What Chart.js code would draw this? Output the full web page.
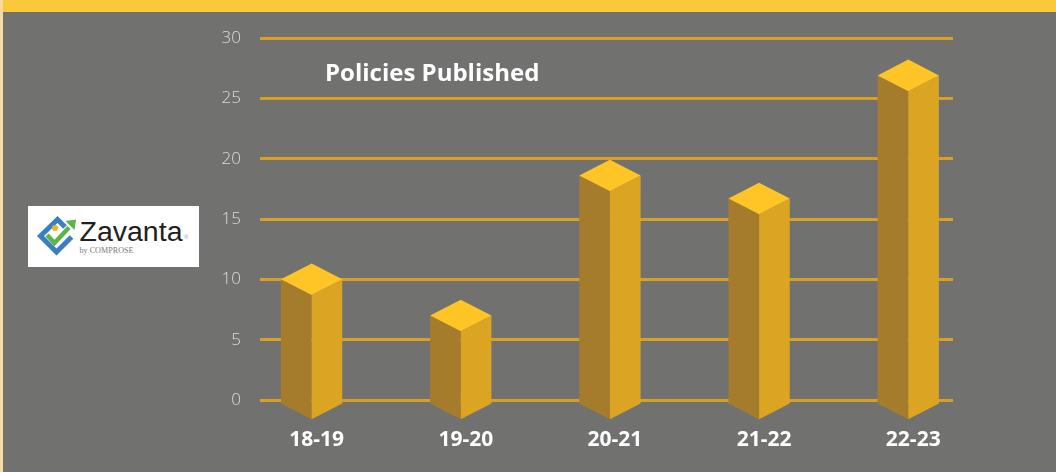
<!DOCTYPE html>
<html>
<head>
<meta charset="utf-8">
<script src="https://cdn.jsdelivr.net/npm/chart.js@4.4.1/dist/chart.umd.min.js"></script>
<style>
    html, body { margin: 0; padding: 0; }
    body {
        width: 1056px;
        height: 472px;
        overflow: hidden;
        position: relative;
        background: #717270;
    }
    .top-band {
        position: absolute; left: 0; top: 0;
        width: 1056px; height: 12px;
        background: #f9c83b;
    }
    .left-edge {
        position: absolute; left: 0; top: 0;
        width: 3px; height: 472px;
        background: #f6dca0;
    }
    .chart-box {
        position: absolute; left: 0; top: 12px;
        width: 1056px; height: 460px;
    }
    .logo {
        position: absolute; left: 28px; top: 206px;
        width: 171px; height: 61px;
        background: #ffffff;
    }
</style>
</head>
<body>
<div class="top-band"></div>
<div class="left-edge"></div>

<div class="logo">
    <svg width="171" height="61" viewBox="0 0 171 61">
        <path d="M37 21 L29.5 13.5 L12.5 30 L28.5 46 L43.5 31" fill="none" stroke="#3b7fc2" stroke-width="5" stroke-linejoin="miter"/>
        <circle cx="27" cy="22" r="3" fill="#f2b321"/>
        <path d="M19 29 L26.5 37 L41 21.5" fill="none" stroke="#5db548" stroke-width="4.5"/>
        <polygon points="48,13.5 37.5,15 46.5,24" fill="#5db548"/>
        <text x="51.5" y="35.3" font-family="Liberation Sans, Arial, sans-serif" font-size="27" fill="#231f20" textLength="103" lengthAdjust="spacingAndGlyphs">Zavanta</text>
        <text x="156" y="33" font-family="Liberation Sans, Arial, sans-serif" font-size="6" fill="#999">®</text>
        <text x="51.5" y="47" font-family="Liberation Serif, serif" font-size="7.5" fill="#7a7a7a" textLength="54" lengthAdjust="spacingAndGlyphs">by COMPROSE</text>
    </svg>
</div>

<div class="chart-box"><canvas id="policyChart"></canvas></div>

<script>
// Chart data
const CATEGORIES = ['18-19', '19-20', '20-21', '21-22', '22-23'];
const POLICIES = [10, 7, 18.6, 16.7, 26.9];
const Y_TICKS = [0, 5, 10, 15, 20, 25, 30];
const TITLE = 'Policies Published';

// 3D column drawing (isometric top + two side faces)
const columns3d = {
    id: 'columns3d',
    afterDatasetsDraw(chart) {
        const ctx = chart.ctx;
        const meta = chart.getDatasetMeta(0);
        meta.data.forEach(bar => {
            const w = bar.width / 2;
            const d = w * 0.515;
            const x = bar.x;
            const top = bar.y;
            const bottom = bar.base + 5;

            ctx.save();
            // left face
            ctx.fillStyle = '#a57c2b';
            ctx.beginPath();
            ctx.moveTo(x - w, top);
            ctx.lineTo(x, top + d);
            ctx.lineTo(x, bottom + d);
            ctx.lineTo(x - w, bottom);
            ctx.closePath();
            ctx.fill();

            // right face
            ctx.fillStyle = '#dba523';
            ctx.beginPath();
            ctx.moveTo(x, top + d);
            ctx.lineTo(x + w, top);
            ctx.lineTo(x + w, bottom);
            ctx.lineTo(x, bottom + d);
            ctx.closePath();
            ctx.fill();

            // top face
            ctx.fillStyle = '#ffc526';
            ctx.beginPath();
            ctx.moveTo(x, top - d);
            ctx.lineTo(x + w, top);
            ctx.lineTo(x, top + d);
            ctx.lineTo(x - w, top);
            ctx.closePath();
            ctx.fill();
            ctx.restore();
        });

        // title inside the plot
        ctx.save();
        ctx.font = 'bold 24px "Open Sans"';
        ctx.fillStyle = '#ffffff';
        ctx.textBaseline = 'alphabetic';
        ctx.fillText(TITLE, chart.chartArea.left + 65, 69);
        ctx.restore();
    }
};

document.addEventListener('DOMContentLoaded', function () {
    const ctx = document.getElementById('policyChart');

    new Chart(ctx, {
        type: 'bar',
        data: {
            datasets: [{
                data: POLICIES.map((v, i) => ({ x: i, y: v })),
                backgroundColor: 'rgba(0, 0, 0, 0)',
                borderWidth: 0,
                categoryPercentage: 1,
                barPercentage: 0.411
            }]
        },
        options: {
            responsive: true,
            maintainAspectRatio: false,
            animation: false,
            layout: {
                padding: { top: 26, right: 103, bottom: 0, left: 0 }
            },
            plugins: {
                legend: { display: false },
                tooltip: { enabled: false },
                title: { display: false }
            },
            scales: {
                x: {
                    type: 'linear',
                    offset: false,
                    min: -0.346,
                    max: 4.3,
                    afterBuildTicks: function (scale) {
                        scale.ticks = CATEGORIES.map((_, i) => ({ value: i }));
                    },
                    afterFit: function (scale) {
                        scale.height = 72;
                    },
                    ticks: {
                        color: '#ffffff',
                        padding: 27,
                        maxRotation: 0,
                        autoSkip: false,
                        labelOffset: 5,
                        font: {
                            family: 'Open Sans',
                            size: 21,
                            weight: 'bold'
                        },
                        callback: function (value) {
                            return CATEGORIES[value];
                        }
                    },
                    grid: { display: false, offset: false, drawTicks: false },
                    border: { display: false }
                },
                y: {
                    min: 0,
                    max: 30,
                    afterBuildTicks: function (scale) {
                        scale.ticks = Y_TICKS.map(v => ({ value: v }));
                    },
                    afterFit: function (scale) {
                        scale.width = 260;
                        scale.paddingTop = 0;
                        scale.paddingBottom = 0;
                    },
                    ticks: {
                        color: '#dcdcdc',
                        padding: 19,
                        font: {
                            family: 'Open Sans',
                            size: 17,
                            weight: '300'
                        }
                    },
                    grid: {
                        color: '#d9a024',
                        lineWidth: 3,
                        drawTicks: false
                    },
                    border: { display: false }
                }
            }
        },
        plugins: [columns3d]
    });
});
</script>
</body>
</html>
